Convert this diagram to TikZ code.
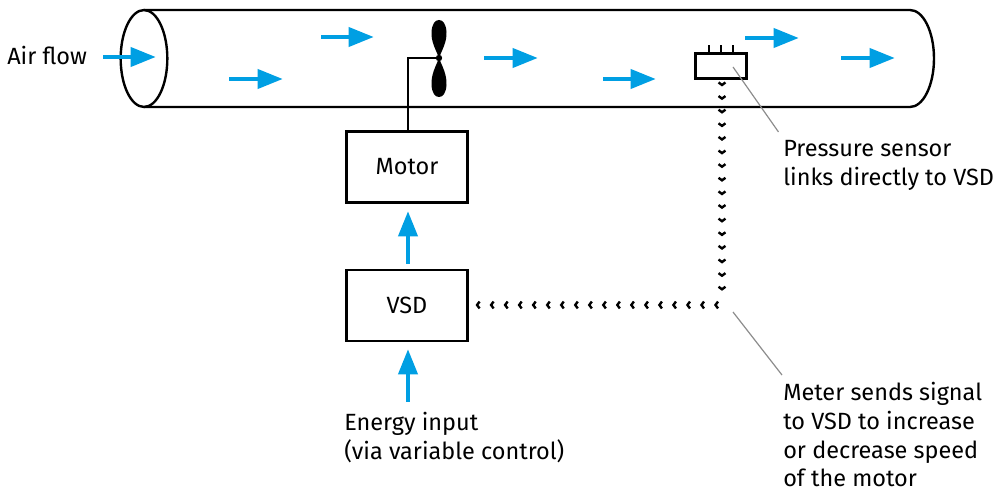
\documentclass[tikz,border=0pt]{standalone}
\usepackage{fontspec}
\setmainfont{Fira Sans}
\usetikzlibrary{arrows.meta,decorations.markings,shapes.geometric}
\definecolor{flowblue}{HTML}{009FE3}
\definecolor{leadgrey}{HTML}{8C8C8C}
\tikzset{
  x=0.75pt,y=-0.75pt,
  every node/.style={font=\fontsize{17.6pt}{22pt}\selectfont,inner sep=0pt,text=black},
  pipe/.style={draw=black,line width=1.8pt},
  boxed/.style={draw=black,line width=1.8pt,minimum width=91pt,minimum height=53pt},
  wire/.style={draw=black,line width=1.6pt},
  flow/.style={draw=flowblue,line width=3.6pt,-{Triangle[length=19pt,width=14pt]}},
  lead/.style={draw=leadgrey,line width=0.9pt},
  signal/.style={decoration={markings,mark=between positions 0 and 1 step #1 with {\draw[black,line width=1.8pt] (-1.9pt,2.6pt) -- (0,0) -- (-1.9pt,-2.6pt);}},postaction={decorate}},
}
\begin{document}
\begin{tikzpicture}
\useasboundingbox (0,0) rectangle (1001,491);
% pipe
\draw[pipe] (144,10) -- (910,10) arc[start angle=-90,end angle=90,x radius=24,y radius=48.5] -- (144,107);
\node[draw=black,line width=1.8pt,ellipse,minimum width=35pt,minimum height=72.7pt] (mouth) at (144,58.5) {};
% boxes
\node[boxed] (motor) at (407,167) {Motor};
\node[boxed] (vsd) at (407,305.5) {VSD};
% fan
\coordinate (hub) at (439,58);
\fill (hub) circle[radius=3.2];
\fill (hub) .. controls (436,50) and (431,42) .. (431.5,32) .. controls (432,24) and (435,20) .. (439,20) .. controls (443,20) and (446,24) .. (446.5,32) .. controls (447,42) and (442,50) .. (hub);
\fill (hub) .. controls (436,66) and (431,74) .. (431.5,85) .. controls (432,93) and (435,97) .. (439,97) .. controls (443,97) and (446,93) .. (446.5,85) .. controls (447,74) and (442,66) .. (hub);
\coordinate (mtop) at (408,132);
\draw[wire] (mtop) -- (408,58) -- (hub);
% sensor
\node[draw=black,line width=1.8pt,minimum width=38pt,minimum height=18.5pt] (sensor) at (721,66) {};
\foreach \tx in {709,721,733} \draw[black,line width=1pt] (\tx,53) -- (\tx,45);
% signal
\coordinate (s1) at (722,85);
\coordinate (s2) at (722,289.5);
\coordinate (h1) at (715.5,305);
\coordinate (h2) at (477,305);
\path[signal=0.0666] (s1) -- (s2);
\path[signal=0.0588] (h1) -- (h2);
% flows
\coordinate (a1) at (103,57); \coordinate (a2) at (156,57);
\draw[flow] (a1) -- (a2);
\draw[flow] (321,37) -- (374,37);
\draw[flow] (229,79) -- (283,79);
\draw[flow] (484,58) -- (538,58);
\draw[flow] (603,79) -- (656,79);
\draw[flow] (745,38) -- (799,38);
\draw[flow] (841,58) -- (895,58);
\draw[flow] (408,264) -- (408,211);
\coordinate (e1) at (408,402);
\draw[flow] (e1) -- (408,349);
% leaders
\coordinate (p1) at (733,67); \coordinate (p2) at (778.5,132);
\coordinate (m1) at (733,312); \coordinate (m2) at (782,375);
\draw[lead] (p1) -- (p2);
\draw[lead] (m1) -- (m2);
% labels
\node[anchor=base west] (air) at (7,65) {Air flow};
\node[anchor=base west] (en1) at (344,431) {Energy input};
\node[anchor=base west] (en2) at (344,460) {(via variable control)};
\node[anchor=base west] (ps1) at (783,157) {Pressure sensor};
\node[anchor=base west] (ps2) at (783,186) {links directly to VSD};
\node[anchor=base west] (mt1) at (783,401) {Meter sends signal};
\node[anchor=base west] (mt2) at (783,430) {to VSD to increase};
\node[anchor=base west] (mt3) at (783,459) {or decrease speed};
\node[anchor=base west] (mt4) at (783,486.5) {of the motor};
\end{tikzpicture}
\end{document}
